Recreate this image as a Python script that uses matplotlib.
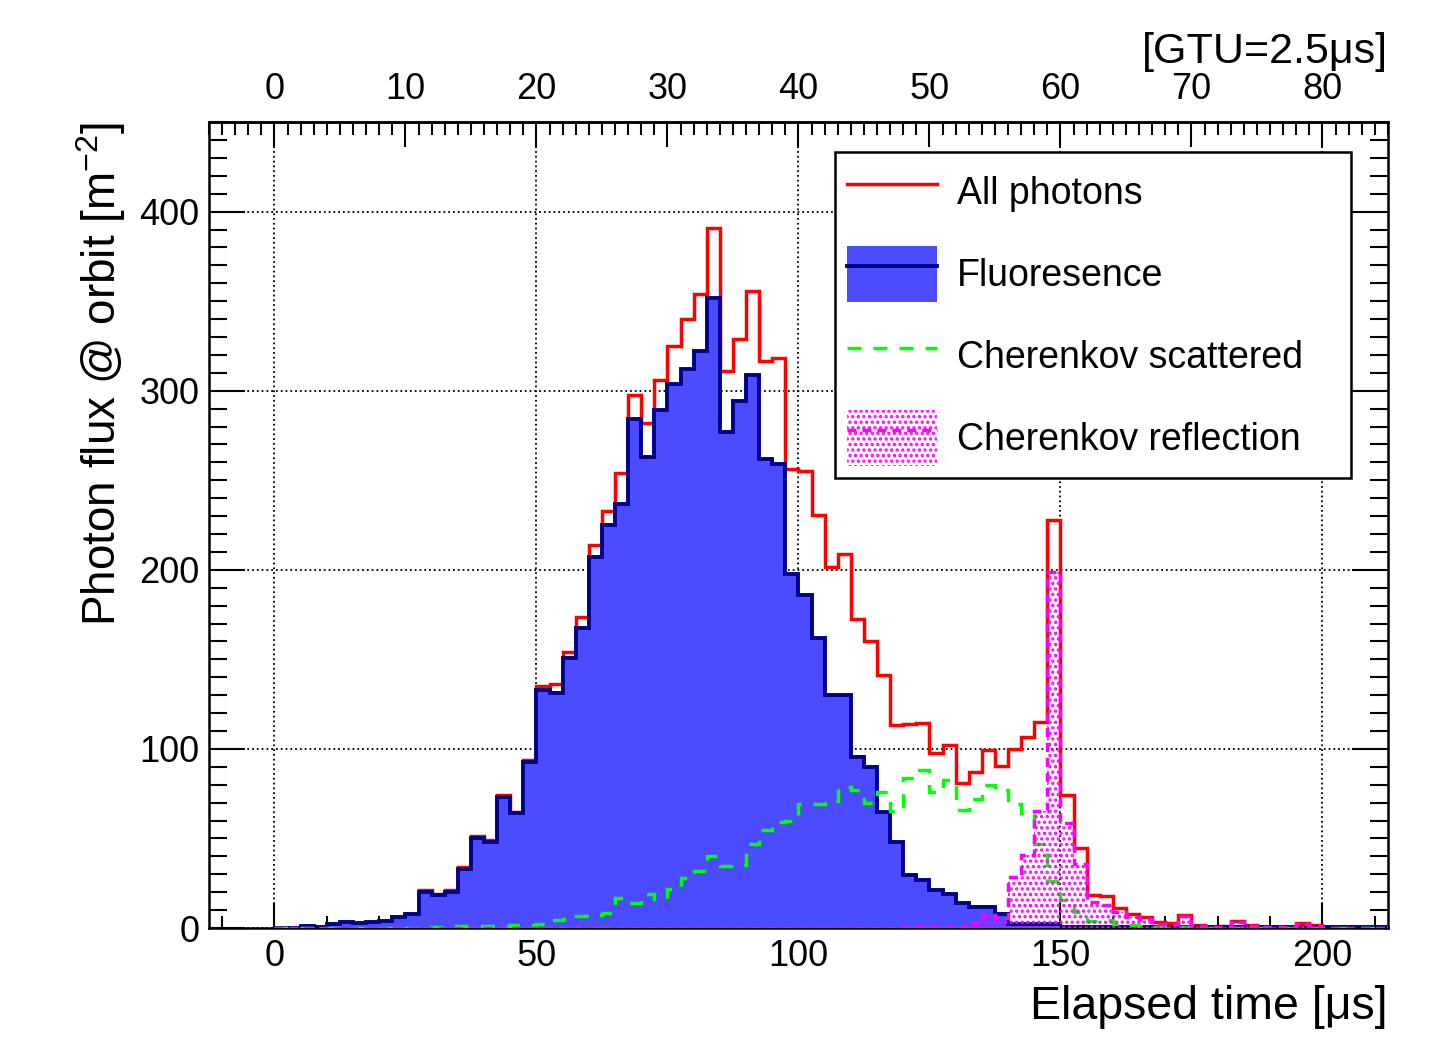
import numpy as np
import matplotlib
matplotlib.use("Agg")
import matplotlib.pyplot as plt
from matplotlib.ticker import MultipleLocator
from matplotlib.lines import Line2D
from matplotlib.patches import Patch

plt.rcParams['font.family'] = ['Liberation Sans', 'DejaVu Sans']
plt.rcParams['mathtext.default'] = 'regular'
plt.rcParams['hatch.linewidth'] = 1.6

# 每个bin = 1 GTU = 2.5 us, 从 GTU 0 到 84
GTU_US = 2.5

# 全部光子 (红线)
all_photons = [
    0, 0, 1.3, 0.3, 2.5, 3.5, 2.8, 3.5, 4, 6,
    8, 21, 19, 21.5, 34, 51.5, 49, 74, 65, 94,
    135, 136, 154, 173.7, 213.7, 233, 254, 297.4, 282, 305.7,
    325, 340, 354, 391, 311, 329, 355.4, 316.5, 318, 256.4,
    255, 230.7, 201.6, 209, 172.4, 160, 141, 113.2, 113.8, 114.5,
    97.5, 102, 80.7, 87.2, 99.3, 90.5, 100, 106.5, 114.8, 228,
    74.5, 44.8, 18.4, 17.9, 11.3, 7.6, 6.3, 3.2, 2.6, 7.3,
    1.7, 0.5, 1, 3.9, 1.5, 0.5, 0.5, 0.5, 2.6, 1.5,
    0.4, 0.4, 0.4, 0.4, 0.4,
]

# 荧光 (蓝色填充)
fluorescence = [
    0, 0, 1.3, 0.3, 2.5, 3.5, 2.8, 3.5, 4, 6,
    8, 20, 18.5, 20, 33, 50, 48, 73, 64, 92.5,
    133, 131, 151, 167.5, 207, 225, 237, 284, 263, 289.5,
    304, 312, 322, 352, 277, 294, 309, 262, 259, 197.5,
    186, 162, 130, 130, 95.5, 90, 65, 48, 29.6, 26.8,
    21, 19, 14, 12, 12, 8, 2.5, 2, 2, 2,
    0.5, 0.3, 0.3, 0.3, 0.3, 0.3, 0.3, 0.3, 0.3, 0.3,
    0.3, 0.3, 0.3, 0.3, 0.3, 0.3, 0.3, 0.3, 0.3, 0.3,
    0.3, 0.3, 0.3, 0.3, 0.3,
]

# 切伦科夫散射 (绿色虚线)
cherenkov_scattered = [
    0, 0, 0, 0, 0, 0, 0, 0, 0, 0,
    0, 0.8, 0.8, 1, 1, 1.2, 1, 1.2, 1.5, 1.7,
    2.5, 4.5, 5, 6.5, 7, 8.5, 17, 14, 19, 16,
    22, 28, 32, 40, 34.5, 35, 47, 55, 59, 60,
    69, 69.5, 71, 79, 77, 70, 76, 65.5, 84, 88,
    76, 82.5, 66, 72, 80, 77, 69, 64, 47, 26,
    15.5, 9, 3.7, 4.5, 2.3, 1.5, 1.3, 0.7, 0.6, 0.8,
    0.3, 0.2, 0.2, 0.2, 0.2, 0.2, 0.2, 0.2, 0.2, 0.2,
    0.2, 0.2, 0.2, 0.2, 0.2,
]

# 切伦科夫反射 (品红点状填充)
cherenkov_reflection = [
    0, 0, 0, 0, 0, 0, 0, 0, 0, 0,
    0, 0, 0, 0, 0, 0, 0, 0, 0, 0,
    0, 0, 0, 0, 0, 0, 0, 0, 0, 0,
    0, 0, 0, 0, 0, 0, 0, 0, 0, 0,
    0, 0, 0, 0, 0, 0, 0, 0, 0.3, 0.5,
    0.8, 0.6, 0.5, 3, 7, 5.4, 28.6, 41, 65.5, 199,
    58.5, 35.5, 14.7, 12.8, 9, 6, 5, 2.5, 2, 6.5,
    1.4, 0.3, 0.8, 3.5, 1.2, 0.3, 0.3, 0.3, 2.3, 1.2,
    0.2, 0.2, 0.2, 0.2, 0.2,
]

legend_labels = ["All photons", "Fluoresence", "Cherenkov scattered", "Cherenkov reflection"]
gtu_ticks = [0, 10, 20, 30, 40, 50, 60, 70, 80]

RED = '#ff0000'
BLUE_FILL = '#4b4bff'
NAVY = '#00008c'
GREEN = '#00ff00'
MAGENTA = '#ff00ff'
GREEN_DASH = (0, (4, 3.5))
MAGENTA_DASH = (0, (2.6, 1.7))


def main():
    edges = np.arange(len(all_photons) + 1) * GTU_US

    fig = plt.figure(figsize=(14.52, 10.37), dpi=100)
    ax = fig.add_axes([0.1439, 0.1051, 0.8120, 0.7772])

    # 画直方图 (顺序: 红 -> 蓝 -> 绿 -> 品红)
    ax.stairs(all_photons, edges, color=RED, lw=2.5, zorder=2)
    ax.stairs(fluorescence, edges, fill=True, color=BLUE_FILL, lw=0, zorder=3)
    ax.stairs(fluorescence, edges, color=NAVY, lw=2.8, zorder=4)
    ax.stairs(cherenkov_scattered, edges, color=GREEN, lw=2.5,
              linestyle=GREEN_DASH, zorder=5)
    ax.stairs(cherenkov_reflection, edges, fill=True, facecolor='none',
              edgecolor=MAGENTA, hatch='...', lw=0, zorder=6)
    ax.stairs(cherenkov_reflection, edges, color=MAGENTA, lw=2.5,
              linestyle=MAGENTA_DASH, zorder=7)

    ax.set_xlim(-12.5, 212.5)
    ax.set_ylim(0, 450)

    # 坐标轴刻度
    ax.xaxis.set_major_locator(MultipleLocator(50))
    ax.xaxis.set_minor_locator(MultipleLocator(10))
    ax.yaxis.set_major_locator(MultipleLocator(100))
    ax.yaxis.set_minor_locator(MultipleLocator(10))
    ax.tick_params(axis='x', which='both', direction='in', top=False, bottom=True,
                   labelsize=26, pad=8)
    ax.tick_params(axis='y', which='both', direction='in', left=True, right=True,
                   labelsize=26, pad=7)
    ax.tick_params(axis='x', which='major', length=18, width=1.5)
    ax.tick_params(axis='x', which='minor', length=9, width=1.5)
    ax.tick_params(axis='y', which='major', length=26, width=1.5)
    ax.tick_params(axis='y', which='minor', length=13, width=1.5)
    for sp in ax.spines.values():
        sp.set_linewidth(1.8)

    ax.grid(True, which='major', linestyle=':', color='black', lw=1.3)
    ax.set_axisbelow(True)

    # 顶部 GTU 坐标
    secax = ax.secondary_xaxis('top', functions=(lambda t: t / GTU_US, lambda g: g * GTU_US))
    secax.set_xticks(gtu_ticks)
    secax.xaxis.set_minor_locator(MultipleLocator(1))
    secax.tick_params(which='both', direction='in', labelsize=26, pad=11, width=1.5)
    secax.tick_params(which='major', length=18)
    secax.tick_params(which='minor', length=9)
    secax.spines['top'].set_linewidth(1.8)
    secax.set_xlabel('[GTU=2.5μs]', loc='right', fontsize=31, labelpad=6)

    ax.set_xlabel('Elapsed time [μs]', loc='right', fontsize=33.5, labelpad=8)
    ax.set_ylabel('Photon flux @ orbit [m$^{-2}$]', loc='top', fontsize=33, labelpad=8)

    # 图例
    handles = [
        Line2D([], [], color=RED, lw=2.5),
        (Patch(facecolor=BLUE_FILL, edgecolor='none'), Line2D([], [], color=NAVY, lw=2.8)),
        Line2D([], [], color=GREEN, lw=2.5, linestyle=GREEN_DASH),
        (Patch(facecolor='none', edgecolor=MAGENTA, hatch='...', lw=0),
         Line2D([], [], color=MAGENTA, lw=2.5, linestyle=MAGENTA_DASH)),
    ]
    leg = ax.legend(handles, legend_labels, loc='upper left',
                    bbox_to_anchor=(0.531, 0.963, 0.438, 0.0), mode='expand',
                    borderaxespad=0, fontsize=27, handlelength=2.4, handleheight=1.92,
                    handletextpad=0.53, labelspacing=0.69, borderpad=0.33,
                    fancybox=False, framealpha=1, edgecolor='black')
    leg.get_frame().set_linewidth(1.8)
    leg.set_zorder(10)

    fig.savefig('out.png', dpi=100)


if __name__ == "__main__":
    main()
